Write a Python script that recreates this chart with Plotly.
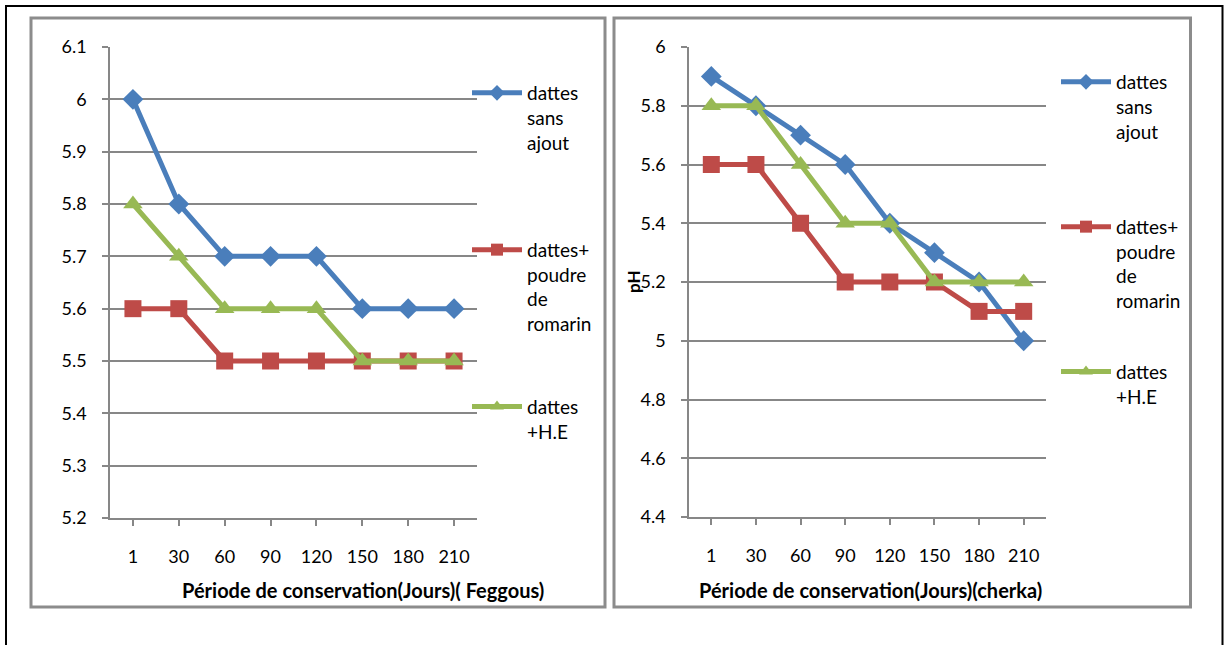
import plotly.graph_objects as go

days = ['1', '30', '60', '90', '120', '150', '180', '210']

# Feggous (left panel)
feg_sans_ajout = [6.0, 5.8, 5.7, 5.7, 5.7, 5.6, 5.6, 5.6]
feg_romarin = [5.6, 5.6, 5.5, 5.5, 5.5, 5.5, 5.5, 5.5]
feg_he = [5.8, 5.7, 5.6, 5.6, 5.6, 5.5, 5.5, 5.5]

# Cherka (right panel)
che_sans_ajout = [5.9, 5.8, 5.7, 5.6, 5.4, 5.3, 5.2, 5.0]
che_romarin = [5.6, 5.6, 5.4, 5.2, 5.2, 5.2, 5.1, 5.1]
che_he = [5.8, 5.8, 5.6, 5.4, 5.4, 5.2, 5.2, 5.2]

names = ['dattes<br>sans<br>ajout<br>&nbsp;', 'dattes+<br>poudre<br>de<br>romarin', 'dattes<br>+H.E']
colors = ['#4A7EBB', '#BE4B48', '#98B954']
symbols = ['diamond', 'square', 'triangle-up']
msizes = [16, 17, 17]

W, H = 1224, 645
FONT = 'Lato'
GRID = '#878787'

fig = go.Figure()

panels = [
    (feg_sans_ajout, feg_romarin, feg_he, 'x', 'y', 'legend'),
    (che_sans_ajout, che_romarin, che_he, 'x2', 'y2', 'legend2'),
]
for p, (a, b, c, xa, ya, lg) in enumerate(panels):
    for i, vals in enumerate([a, b, c]):
        fig.add_trace(go.Scatter(
            x=days, y=vals, xaxis=xa, yaxis=ya, legend=lg,
            name=names[i], legendgroup=f'g{p}{i}',
            mode='lines+markers',
            line=dict(color=colors[i], width=5),
            marker=dict(symbol=symbols[i], size=msizes[i], color=colors[i]),
        ))

def px(x):
    return x / W

def py(y):
    return 1 - y / H

axis_common = dict(
    showline=True, linecolor=GRID, linewidth=1.5,
    ticks='outside', tickcolor=GRID, ticklen=6, tickwidth=1.5,
    tickfont=dict(family=FONT, size=18, color='black'),
    zeroline=False,
)

legend_common = dict(
    xanchor='left', yanchor='top', traceorder='grouped', valign='top',
    itemsizing='constant', itemwidth=50,
    font=dict(family=FONT, size=19, color='black'),
    bgcolor='rgba(0,0,0,0)',
)

fig.update_layout(
    width=W, height=H,
    margin=dict(l=0, r=0, t=0, b=0, autoexpand=False),
    paper_bgcolor='white', plot_bgcolor='white',
    font=dict(family=FONT, color='black'),
    xaxis=dict(domain=[px(110), px(477)], type='category', range=[-0.5, 7.5],
               showgrid=False, anchor='y', ticklabelstandoff=16, **axis_common),
    yaxis=dict(domain=[py(518), py(47)], range=[5.2, 6.1], dtick=0.1,
               showgrid=True, gridcolor=GRID, gridwidth=1.5, anchor='x',
               ticklabelstandoff=12, **axis_common),
    xaxis2=dict(domain=[px(689), px(1046)], type='category', range=[-0.5, 7.5],
                showgrid=False, anchor='y2', ticklabelstandoff=16, **axis_common),
    yaxis2=dict(domain=[py(517), py(47)], range=[4.4, 6.0], dtick=0.2,
                showgrid=True, gridcolor=GRID, gridwidth=1.5, anchor='x2',
                ticklabelstandoff=12, **axis_common),
    legend=dict(x=px(467), y=py(74), tracegroupgap=55, **legend_common),
    legend2=dict(x=px(1056), y=py(63), tracegroupgap=43, **legend_common),
    showlegend=True,
)

# panel frames and outer frame
fig.add_shape(type='rect', xref='paper', yref='paper', x0=px(6), x1=px(1222.5), y0=-0.2, y1=py(6),
              line=dict(color='black', width=2), layer='below')
fig.add_shape(type='rect', xref='paper', yref='paper', x0=px(31), x1=px(605), y0=py(607), y1=py(18),
              line=dict(color='#8C8C8C', width=3), layer='below')
fig.add_shape(type='rect', xref='paper', yref='paper', x0=px(614), x1=px(1190.5), y0=py(607), y1=py(18),
              line=dict(color='#8C8C8C', width=3), layer='below')

# axis titles
fig.add_annotation(text='<b>Période de conservation(Jours)( Feggous)</b>', xref='paper', yref='paper',
                   x=px(363), y=py(590), xanchor='center', yanchor='middle', showarrow=False,
                   font=dict(family=FONT, size=20, color='black'))
fig.add_annotation(text='<b>Période de conservation(Jours)(cherka)</b>', xref='paper', yref='paper',
                   x=px(870), y=py(590), xanchor='center', yanchor='middle', showarrow=False,
                   font=dict(family=FONT, size=20, color='black'))
fig.add_annotation(text='<b>pH</b>', xref='paper', yref='paper', textangle=-90,
                   x=px(633), y=py(282), xanchor='center', yanchor='middle', showarrow=False,
                   font=dict(family=FONT, size=17, color='black'))

fig.write_html('out.html')
